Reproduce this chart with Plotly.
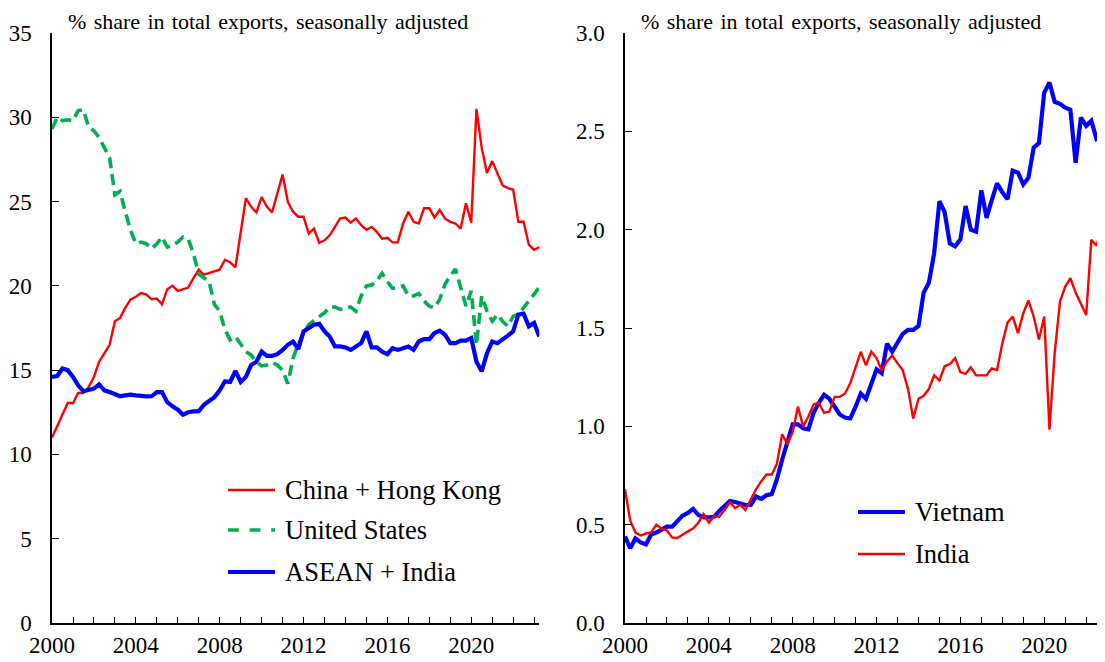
import pandas as pd
import plotly.graph_objects as go

# ---------------- data (quarterly, 2000Q1 onwards) ----------------
china_hk = [11.0, 11.7, 12.3, 13.05, 13.05, 13.64, 13.64, 14.0, 14.6, 15.5,
            16.0, 16.5, 17.9, 18.1, 18.7, 19.2, 19.35, 19.57, 19.5, 19.2,
            19.25, 18.9, 19.8, 20.0, 19.7, 19.8, 19.9, 20.46, 20.96, 20.66,
            20.75, 20.85, 20.96, 21.55, 21.4, 21.1, 23.15, 25.2, 24.7, 24.36,
            25.27, 24.7, 24.36, 25.5, 26.6, 25.0, 24.4, 24.1, 24.1, 23.1,
            23.4, 22.55, 22.7, 23.0, 23.5, 24.0, 24.05, 23.75, 24.0, 23.6,
            23.33, 23.5, 23.2, 22.8, 22.85, 22.58, 22.58, 23.7, 24.4, 23.8,
            23.7, 24.6, 24.6, 24.05, 24.5, 24.0, 23.8, 23.7, 23.4, 24.9,
            23.75, 30.5, 28.2, 26.7, 27.4, 26.7, 25.96, 25.8, 25.7, 23.8,
            23.8, 22.44, 22.14, 22.3]
united_states = [29.3, 30.0, 29.8, 29.85, 29.8, 30.4, 30.45, 29.4, 29.2, 28.8,
                 28.2, 27.6, 25.4, 25.6, 24.4, 23.3, 22.5, 22.6, 22.5, 22.2,
                 22.5, 22.9, 22.3, 22.4, 22.6, 22.9, 22.8, 21.9, 20.7, 20.5,
                 20.25, 18.9, 18.5, 17.4, 16.8, 17.0, 16.5, 16.1, 15.9, 15.5,
                 15.25, 15.3, 15.45, 15.3, 15.0, 14.2, 15.7, 16.55, 17.2, 17.7,
                 17.95, 18.2, 18.4, 18.75, 18.75, 18.6, 18.7, 18.75, 18.5, 19.4,
                 20.0, 20.05, 20.3, 20.75, 20.25, 19.85, 19.9, 20.0, 19.4, 19.4,
                 19.55, 19.1, 18.8, 18.7, 19.2, 20.1, 20.6, 21.0, 19.9, 18.8,
                 19.7, 16.5, 19.4, 18.5, 17.9, 18.3, 17.9, 17.6, 18.2, 18.3,
                 18.7, 19.1, 19.5, 19.9]
asean_india = [14.6, 14.65, 15.1, 15.0, 14.6, 14.1, 13.75, 13.8, 13.9, 14.15,
               13.8, 13.7, 13.55, 13.45, 13.5, 13.55, 13.5, 13.45, 13.44, 13.45,
               13.7, 13.7, 13.1, 12.85, 12.65, 12.36, 12.5, 12.55, 12.56, 12.95,
               13.2, 13.4, 13.8, 14.33, 14.3, 14.95, 14.3, 14.6, 15.3, 15.5,
               16.1, 15.85, 15.85, 15.95, 16.2, 16.5, 16.7, 16.25, 17.3, 17.5,
               17.7, 17.75, 17.3, 17.0, 16.41, 16.41, 16.35, 16.2, 16.4, 16.6,
               17.3, 16.35, 16.35, 16.1, 15.95, 16.3, 16.2, 16.3, 16.4, 16.2,
               16.7, 16.84, 16.84, 17.2, 17.34, 17.1, 16.6, 16.6, 16.75, 16.75,
               16.9, 15.5, 14.93, 16.0, 16.7, 16.6, 16.8, 17.05, 17.3, 18.3,
               18.35, 17.6, 17.8, 17.0]
vietnam = [0.44, 0.38, 0.43, 0.41, 0.40, 0.45, 0.46, 0.475, 0.49, 0.49,
           0.52, 0.546, 0.56, 0.58, 0.55, 0.537, 0.537, 0.54, 0.57, 0.595,
           0.62, 0.615, 0.605, 0.60, 0.60, 0.643, 0.631, 0.65, 0.655, 0.73,
           0.83, 0.93, 1.01, 1.01, 0.99, 0.985, 1.07, 1.12, 1.16, 1.14,
           1.10, 1.06, 1.045, 1.04, 1.10, 1.167, 1.14, 1.22, 1.29, 1.27,
           1.42, 1.38, 1.43, 1.47, 1.49, 1.49, 1.51, 1.68, 1.73, 1.88,
           2.145, 2.09, 1.93, 1.915, 1.95, 2.12, 2.0, 1.99, 2.2, 2.06,
           2.15, 2.235, 2.19, 2.155, 2.30, 2.29, 2.23, 2.264, 2.417, 2.44,
           2.697, 2.748, 2.65, 2.64, 2.62, 2.61, 2.34, 2.57, 2.528, 2.554,
           2.46, 2.47, 2.48]
india = [0.68, 0.52, 0.46, 0.445, 0.455, 0.46, 0.50, 0.48, 0.47, 0.435,
         0.432, 0.45, 0.466, 0.48, 0.51, 0.554, 0.51, 0.543, 0.54, 0.575,
         0.614, 0.585, 0.60, 0.575, 0.63, 0.68, 0.72, 0.755, 0.755, 0.81,
         0.96, 0.91, 0.97, 1.10, 1.0, 1.05, 1.112, 1.119, 1.068, 1.075,
         1.15, 1.15, 1.167, 1.22, 1.30, 1.379, 1.31, 1.38, 1.347, 1.284,
         1.33, 1.36, 1.32, 1.286, 1.192, 1.039, 1.14, 1.155, 1.19, 1.259,
         1.234, 1.306, 1.316, 1.347, 1.276, 1.267, 1.30, 1.259, 1.259, 1.259,
         1.294, 1.286, 1.422, 1.527, 1.558, 1.473, 1.575, 1.64, 1.558, 1.442,
         1.558, 0.983, 1.371, 1.634, 1.711, 1.753, 1.68, 1.62, 1.566, 1.949,
         1.918, 2.017, 2.45]

left_names = ["China + Hong Kong", "United States", "ASEAN + India"]
right_names = ["Vietnam", "India"]
panel_title = "% share in total exports, seasonally adjusted"
year_ticks = list(range(2000, 2024))
left_yticks = [0, 5, 10, 15, 20, 25, 30, 35]
right_yticks = [0.0, 0.5, 1.0, 1.5, 2.0, 2.5, 3.0]

# ---------------- styling ----------------
RED = "#FF0000"
GREEN = "#00B050"
BLUE = "#0000FF"
FONT = "Liberation Serif"

# The page body has an 8px margin, so the figure is laid out in window
# pixels shifted by OFF and sized to fit the window exactly.
OFF = 8
WIN_W, WIN_H = 1105, 662
W, H = WIN_W - OFF, WIN_H - OFF
PLOT_L, PLOT_T, PLOT_B = 52, 33, 623          # window pixels of the plot area
ML, MT, MR = PLOT_L - OFF, PLOT_T - OFF, 0
MB = H - (PLOT_B - OFF)
PW = W - ML - MR
PH = H - MT - MB


def px_x(p):
    return (p - OFF - ML) / PW


def px_y(p):
    return (H - MB - (p - OFF)) / PH


q_left = pd.date_range("2000-01-01", periods=len(china_hk), freq="QS")
q_right = pd.date_range("2000-01-01", periods=len(vietnam), freq="QS")

fig = go.Figure()
fig.add_trace(go.Scatter(x=q_left, y=china_hk, mode="lines", name=left_names[0],
                         line=dict(color=RED, width=2.4), xaxis="x", yaxis="y"))
fig.add_trace(go.Scatter(x=q_left, y=united_states, mode="lines", name=left_names[1],
                         line=dict(color=GREEN, width=3.6, dash="11px,6px"),
                         xaxis="x", yaxis="y"))
fig.add_trace(go.Scatter(x=q_left, y=asean_india, mode="lines", name=left_names[2],
                         line=dict(color=BLUE, width=4.2), xaxis="x", yaxis="y"))
fig.add_trace(go.Scatter(x=q_right, y=vietnam, mode="lines", name=right_names[0],
                         line=dict(color=BLUE, width=4.2), xaxis="x2", yaxis="y2"))
fig.add_trace(go.Scatter(x=q_right, y=india, mode="lines", name=right_names[1],
                         line=dict(color=RED, width=2.4), xaxis="x2", yaxis="y2"))

tickvals = [f"{y}-01-01" for y in year_ticks]
ticktext = [str(y) if y % 4 == 0 else "" for y in year_ticks]

left_end_px = 539.3
right_start_px = 625
px_per_year = (left_end_px - PLOT_L) / 23.25
right_years = (WIN_W - right_start_px) / px_per_year
right_end = pd.Timestamp("2000-01-01") + pd.Timedelta(days=right_years * 365.25)

xcommon = dict(type="date", tickmode="array", tickvals=tickvals, ticktext=ticktext,
               ticks="inside", ticklen=6, tickwidth=1.3, tickcolor="black",
               showline=True, linecolor="black", linewidth=1.5, showgrid=False,
               zeroline=False, tickfont=dict(family=FONT, size=23, color="black"),
               ticklabelstandoff=1, automargin=False)
ycommon = dict(ticks="inside", ticklen=7, tickwidth=1.3, tickcolor="black",
               showline=True, linecolor="black", linewidth=1.5, showgrid=False,
               zeroline=False, tickfont=dict(family=FONT, size=23, color="black"),
               ticklabelstandoff=14, tickmode="array", automargin=False)

fig.update_layout(
    width=W, height=H, margin=dict(l=ML, r=MR, t=MT, b=MB, autoexpand=False),
    paper_bgcolor="white", plot_bgcolor="white", showlegend=False,
    font=dict(family=FONT, color="black"),
    xaxis=dict(domain=[0, px_x(left_end_px)], range=["2000-01-01", "2023-04-01"],
               anchor="y", **xcommon),
    yaxis=dict(domain=[0, 1], range=[0, 35], anchor="x",
               tickvals=left_yticks, ticktext=[str(v) for v in left_yticks], **ycommon),
    xaxis2=dict(domain=[px_x(right_start_px), 1],
                range=["2000-01-01", right_end.strftime("%Y-%m-%d")],
                anchor="y2", **xcommon),
    yaxis2=dict(domain=[0, 1], range=[0, 3.0], anchor="x2",
                tickvals=right_yticks, ticktext=[f"{v:.1f}" for v in right_yticks],
                **ycommon),
)

# panel titles (hair spaces widen the word gaps as in the original)
title_text = panel_title.replace(" ", " \u200a")
for xp in (66, 639):
    fig.add_annotation(x=px_x(xp), y=px_y(21), xref="paper", yref="paper",
                       text=title_text, showarrow=False, xanchor="left",
                       yanchor="middle", font=dict(family=FONT, size=22, color="black"))

# manual legends
legend_items = [
    (left_names[0], RED, 2.4, "solid", 228, 275, 490),
    (left_names[1], GREEN, 3.6, "dash", 228, 275, 530),
    (left_names[2], BLUE, 4.2, "solid", 228, 275, 572),
    (right_names[0], BLUE, 4.2, "solid", 858, 905, 512),
    (right_names[1], RED, 2.4, "solid", 858, 905, 554),
]
for name, color, width, dash, x0, x1, yp in legend_items:
    fig.add_shape(type="line", xref="paper", yref="paper",
                  x0=px_x(x0), x1=px_x(x1), y0=px_y(yp), y1=px_y(yp),
                  line=dict(color=color, width=width, dash=dash))
    fig.add_annotation(x=px_x(x1 + 8), y=px_y(yp), xref="paper", yref="paper",
                       text=name, showarrow=False, xanchor="left", yanchor="middle",
                       font=dict(family=FONT, size=26.5, color="black"))

fig.write_html("out.html")
